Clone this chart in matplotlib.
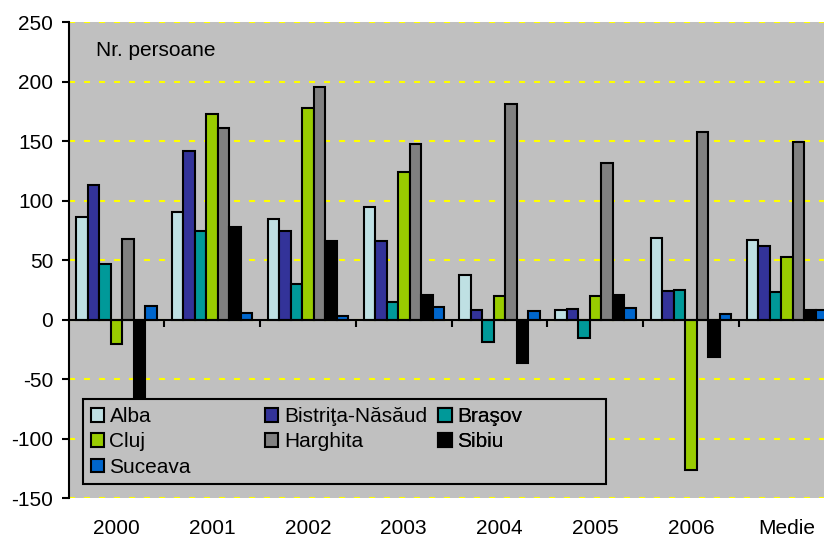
import matplotlib
matplotlib.use("Agg")
import matplotlib.pyplot as plt
import matplotlib.transforms as mtransforms
from matplotlib.patches import Rectangle
import numpy as np

plt.rcParams['font.family'] = ['Liberation Sans', 'DejaVu Sans']

categories = ["2000", "2001", "2002", "2003", "2004", "2005", "2006", "Medie"]
series_names = ["Alba", "Bistriţa-Năsăud", "Braşov", "Cluj", "Harghita", "Sibiu", "Suceava"]
alba      = [86, 91, 85, 95, 38, 8, 69, 67]
bistrita  = [113, 142, 75, 66, 8, 9, 24, 62]
brasov    = [47, 75, 30, 15, -19, -15, 25, 23]
cluj      = [-20, 173, 178, 124, 20, 20, -126, 53]
harghita  = [68, 161, 196, 148, 181, 132, 158, 149]
sibiu     = [-65, 78, 66, 21, -36, 21, -31, 8]
suceava   = [12, 6, 3, 11, 7, 10, 5, 8]
series_values = [alba, bistrita, brasov, cluj, harghita, sibiu, suceava]
colors = ["#BFE0E3", "#333399", "#009999", "#99CC00", "#808080", "#000000", "#0066CC"]
yticks = [-150, -100, -50, 0, 50, 100, 150, 200, 250]

FS = 15
W, H = 824, 537
fig = plt.figure(figsize=(W / 100, H / 100), dpi=100)
ax_left, ax_right, ax_top, ax_bottom = 68.5, 834.9, 22.3, 498.3
ax = fig.add_axes([ax_left / W, (H - ax_bottom) / H, (ax_right - ax_left) / W, (ax_bottom - ax_top) / H])
ax.set_facecolor("#C0C0C0")

n = len(series_names)
bw = 0.12
x = np.arange(len(categories))
containers = []
for i, (name, vals, c) in enumerate(zip(series_names, series_values, colors)):
    cont = ax.bar(x + (i - (n - 1) / 2) * bw, vals, width=bw, color=c,
                  edgecolor="black", linewidth=1.5, label=name, zorder=3)
    containers.append(cont)

ax.set_xlim(-0.5, len(categories) - 0.5)
ax.set_ylim(-150, 250)
ax.set_yticks(yticks)
ax.set_yticklabels([str(v) for v in yticks], fontsize=FS)
ax.tick_params(axis='y', direction='out', length=5, width=1.5, pad=6)
ax.set_xticks(np.arange(len(categories) - 1) + 0.5)
ax.set_xticklabels([])
ax.tick_params(axis='x', direction='out', length=5, width=1.5)

ax.set_axisbelow(True)
ax.yaxis.grid(True, color="#FFFF00", linewidth=1.5, linestyle=(0, (2.9, 4.3)))
for sp in ["top", "right"]:
    ax.spines[sp].set_visible(False)
ax.spines["left"].set_linewidth(1.5)
ax.spines["bottom"].set_position(("data", 0))
ax.spines["bottom"].set_linewidth(1.5)
ax.spines["bottom"].set_zorder(4)

trans = mtransforms.blended_transform_factory(ax.transData, fig.transFigure)
for xi, lab in zip(x, categories):
    ax.text(xi, (H - 528) / H, lab, transform=trans, ha="center", va="center", fontsize=FS)

ax.text((96 - ax_left) / (ax_right - ax_left), (ax_bottom - 50) / (ax_bottom - ax_top),
        "Nr. persoane", transform=ax.transAxes, ha="left", va="center", fontsize=FS)

# legend frame
frame = Rectangle((83.3 / W, (H - 484.3) / H), (605.7 - 83.3) / W, (484.3 - 399) / H,
                  transform=fig.transFigure, facecolor="#C0C0C0", edgecolor="black",
                  linewidth=1.5, zorder=6)
ax.add_patch(frame)
frame.set_clip_on(False)

cols = [[0, 3, 6], [1, 4], [2, 5]]
col_x = [90.5, 265, 438.5]
for cx, idxs in zip(col_x, cols):
    leg = ax.legend([containers[i] for i in idxs], [series_names[i] for i in idxs],
                    loc="upper left", bbox_to_anchor=(cx / W, (H - 407) / H),
                    bbox_transform=fig.transFigure, frameon=False, fontsize=FS,
                    handlelength=0.64, handleheight=0.64, handletextpad=0.27,
                    labelspacing=0.31, borderpad=0, borderaxespad=0)
    leg.set_zorder(7)
    ax.add_artist(leg)

fig.savefig("out.png", dpi=100)
